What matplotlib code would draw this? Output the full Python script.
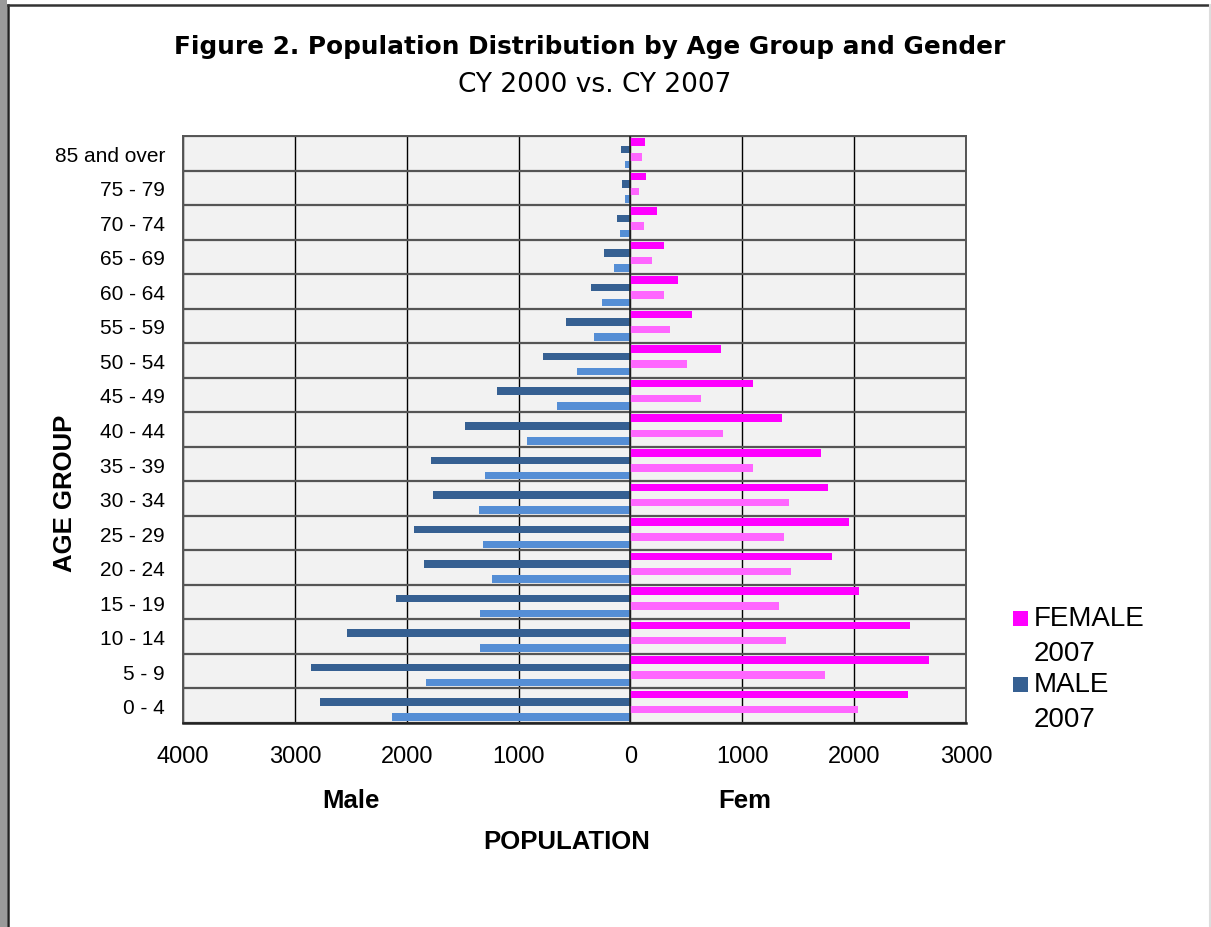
import numpy as np
import matplotlib
matplotlib.use('Agg')
import matplotlib.pyplot as plt
from matplotlib.patches import Rectangle
from matplotlib.lines import Line2D

plt.rcParams['font.family'] = 'Liberation Sans'

# age groups, bottom to top
ages = ['0 - 4', '5 - 9', '10 - 14', '15 - 19', '20 - 24', '25 - 29', '30 - 34',
        '35 - 39', '40 - 44', '45 - 49', '50 - 54', '55 - 59', '60 - 64',
        '65 - 69', '70 - 74', '75 - 79', '85 and over']
female_2007 = [2480, 2669, 2498, 2042, 1803, 1957, 1767, 1700, 1357, 1100,
               807, 550, 424, 302, 234, 140, 126]
male_2007 = [2777, 2854, 2534, 2096, 1844, 1934, 1763, 1785, 1479, 1190,
             780, 573, 356, 239, 122, 77, 81]
female_2000 = [2033, 1736, 1393, 1326, 1438, 1371, 1420, 1100, 830, 631,
               509, 356, 298, 189, 117, 77, 104]
male_2000 = [2133, 1830, 1348, 1344, 1240, 1321, 1357, 1298, 924, 654,
             478, 329, 257, 144, 90, 50, 50]
xticks = [-4000, -3000, -2000, -1000, 0, 1000, 2000, 3000]
legend_labels = ['FEMALE\n2007', 'MALE\n2007']
legend_colors = ['#ff00ff', '#366092']

W, H = 1211, 928
fig = plt.figure(figsize=(W / 100, H / 100), dpi=100)
fig.patch.set_facecolor('white')

# page frame
fig.add_artist(Rectangle((0, 0), 7 / W, 1, transform=fig.transFigure,
                         facecolor='#9a9a9a', edgecolor='none'))
fig.add_artist(Line2D([8 / W, 8 / W], [0, 1 - 6 / H], transform=fig.transFigure,
                      color='#222222', lw=1.8))
fig.add_artist(Line2D([8 / W, 1], [1 - 6 / H, 1 - 6 / H], transform=fig.transFigure,
                      color='#333333', lw=1.8))
fig.add_artist(Line2D([1209.5 / W, 1209.5 / W], [0, 1 - 6 / H], transform=fig.transFigure,
                      color='#dddddd', lw=1.5))

ax = fig.add_axes([183 / W, 1 - 724 / H, 783 / W, 587 / H])
ax.set_facecolor('#f2f2f2')

y = np.arange(len(ages))
h = 0.218
ax.barh(y + 1.5 * h, female_2007, height=h, color='#ff00ff', zorder=3)
ax.barh(y + 0.5 * h, -np.array(male_2007), height=h, color='#366092', zorder=3)
ax.barh(y - 0.5 * h, female_2000, height=h, color='#ff66ff', zorder=3)
ax.barh(y - 1.5 * h, -np.array(male_2000), height=h, color='#558ed5', zorder=3)

ax.set_xlim(-4000, 3000)
ax.set_ylim(-0.5, len(ages) - 0.5)
ax.set_xticks(xticks)
ax.set_xticklabels([str(abs(v)) for v in xticks], fontsize=17)
ax.set_yticks(y)
ax.set_yticklabels(ages, fontsize=15)
ax.tick_params(axis='both', length=0)
ax.tick_params(axis='x', pad=16)
ax.tick_params(axis='y', pad=13)

for v in xticks:
    ax.axvline(v, color='black', lw=1.0, zorder=1)
for k in range(len(ages) + 1):
    ax.axhline(k - 0.5, color='#555555', lw=1.6, zorder=2)
ax.axvline(0, color='#222222', lw=1.2, zorder=4)
for s in ['top', 'left', 'right']:
    ax.spines[s].set_color('#555555')
    ax.spines[s].set_linewidth(1.4)
ax.spines['bottom'].set_color('#222222')
ax.spines['bottom'].set_linewidth(1.8)

# titles
fig.text(590 / W, 1 - 47 / H, 'Figure 2. Population Distribution by Age Group and Gender',
         ha='center', va='center', fontsize=17.8, fontweight='bold', family='DejaVu Sans')
fig.text(595 / W, 1 - 85 / H, 'CY 2000 vs. CY 2007', ha='center', va='center',
         fontsize=19, family='DejaVu Sans')

# axis labels
fig.text(65 / W, 1 - 493 / H, 'AGE GROUP', rotation=90, ha='center', va='center',
         fontsize=18.5, fontweight='bold')
fig.text(351 / W, 1 - 801 / H, 'Male', ha='center', va='center', fontsize=18.5,
         fontweight='bold')
fig.text(745 / W, 1 - 801 / H, 'Fem', ha='center', va='center', fontsize=18.5,
         fontweight='bold')
fig.text(567 / W, 1 - 842 / H, 'POPULATION', ha='center', va='center', fontsize=18.5,
         fontweight='bold')

# legend (square next to first line of each label)
for i, (lab, col) in enumerate(zip(legend_labels, legend_colors)):
    top = 606 + i * 66
    fig.add_artist(Rectangle((1013 / W, 1 - (top + 21) / H), 15 / W, 15 / H,
                             transform=fig.transFigure, facecolor=col, edgecolor='none'))
    fig.text(1034 / W, 1 - top / H, lab, ha='left', va='top', fontsize=20,
             linespacing=1.45)

fig.savefig('out.png', dpi=100)
